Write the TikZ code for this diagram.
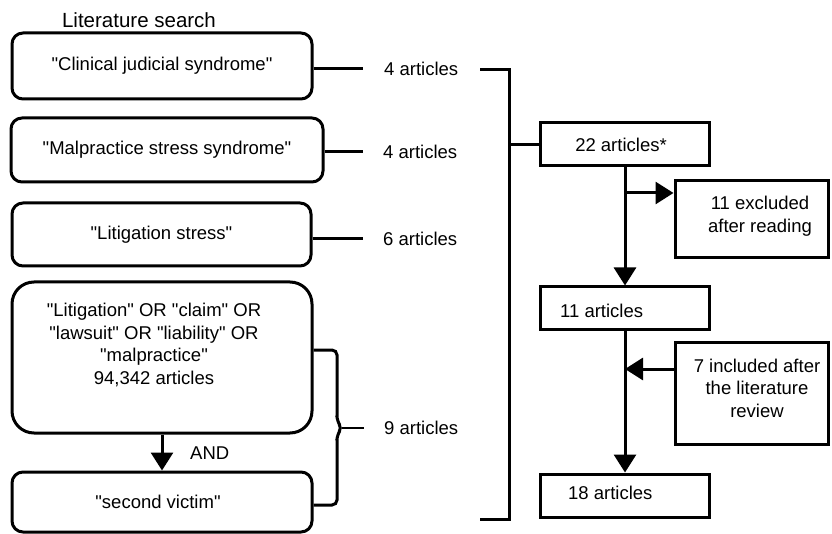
\documentclass[tikz,border=0pt]{standalone}
\usepackage{fontspec}
\setmainfont{Liberation Sans}[Ligatures=TeXOff]
\usetikzlibrary{arrows.meta}
\begin{document}
\begin{tikzpicture}[x=1pt,y=1pt,
  every node/.style={font=\fontsize{18.5}{22.5}\selectfont},
  rbox/.style={draw, line width=3pt, rounded corners=11pt, inner sep=0pt},
  bigrbox/.style={draw, line width=3pt, rounded corners=22pt, inner sep=0pt},
  sbox/.style={draw, line width=3pt, inner sep=0pt},
  txt/.style={inner sep=0pt},
  conn/.style={line width=3pt},
  arr/.style={line width=3pt, -{Triangle[length=18pt,width=22pt]}}]
\useasboundingbox (0,0) rectangle (832,-534);

\node[txt] (title) at (139,-20) {\fontsize{20.5}{24}\selectfont Literature search};

% left search boxes
\node[rbox, minimum width=300pt, minimum height=66pt] (b1) at (162,-66) {"Clinical judicial syndrome"};
\node[rbox, minimum width=312pt, minimum height=64pt] (b2) at (167,-150) {"Malpractice stress syndrome"};
\node[rbox, minimum width=299pt, minimum height=63pt] (b3) at (161.5,-234.5) {"Litigation stress"};
\node[bigrbox, minimum width=300pt, minimum height=151pt] (b4) at (162,-357.5) {};
\node[txt, align=center] (b4t) at (154,-345) {"Litigation" OR "claim" OR\\"lawsuit" OR "liability" OR\\"malpractice"\\94,342 articles};
\node[rbox, minimum width=300pt, minimum height=60pt] (b5) at (162,-502) {};
\node[txt] (b5t) at (158,-502) {"second victim"};

\draw[arr] (b4.south) -- (b5.north);
\node[txt, anchor=west] (and) at (190,-453) {AND};

% article counts
\coordinate (c1) at (363,-69);
\coordinate (c2) at (363,-152);
\coordinate (c3) at (363,-239);
\node[txt, anchor=west] (a1) at (384,-69) {4 articles};
\node[txt, anchor=west] (a2) at (383,-152) {4 articles};
\node[txt, anchor=west] (a3) at (383,-239) {6 articles};
\draw[conn] (b1.east |- c1) -- (c1);
\draw[conn] (b2.east |- c2) -- (c2);
\draw[conn] (b3.east |- c3) -- (c3);

% small curly brace
\coordinate (s1) at (337,-350);
\coordinate (s2) at (337,-505);
\coordinate (sm) at (342,-428);
\coordinate (se) at (364,-428);
\draw[conn, rounded corners=5pt] (b4.east |- s1) -- (s1) -- (337,-421) -- (sm) -- (337,-435) -- (s2) -- (b5.east |- s2);
\draw[line width=2.6pt] (sm) -- (se);
\node[txt, anchor=west] (a9) at (384,-428) {9 articles};

% right flow
\node[sbox, minimum width=169pt, minimum height=43pt] (n22) at (625,-144.5) {};
\node[txt] (n22t) at (621,-144.5) {22 articles*};
\node[sbox, minimum width=153pt, minimum height=77pt] (nex) at (751.5,-219.5) {};
\node[txt, align=center] (next) at (760,-216) {11 excluded\\after reading};
\node[sbox, minimum width=169pt, minimum height=43pt] (n11) at (625,-308.5) {};
\node[txt, anchor=west] (n11t) at (560,-311) {11 articles};
\node[sbox, minimum width=153pt, minimum height=102pt] (ninc) at (751.5,-393) {};
\node[txt, align=center] (ninct) at (757,-388) {7 included after\\the literature\\review};
\node[sbox, minimum width=169pt, minimum height=43pt] (n18) at (625,-495.5) {};
\node[txt, anchor=west] (n18t) at (568,-493) {18 articles};

% big bracket
\coordinate (bt) at (480,-70);
\coordinate (bb) at (480,-519);
\coordinate (bm) at (509,-144.5);
\draw[conn] (bt) -- (509,-70) -- (509,-519) -- (bb);
\draw[conn] (bm) -- (n22.west);

\draw[arr] (n22.south) -- (n11.north);
\draw[arr] (n11.south) -- (n18.north);
\coordinate (j1) at (625,-193);
\coordinate (j2) at (625,-369);
\draw[arr] (j1) -- (j1 -| nex.west);
\draw[arr] (j2 -| ninc.west) -- (j2);
\end{tikzpicture}
\end{document}
